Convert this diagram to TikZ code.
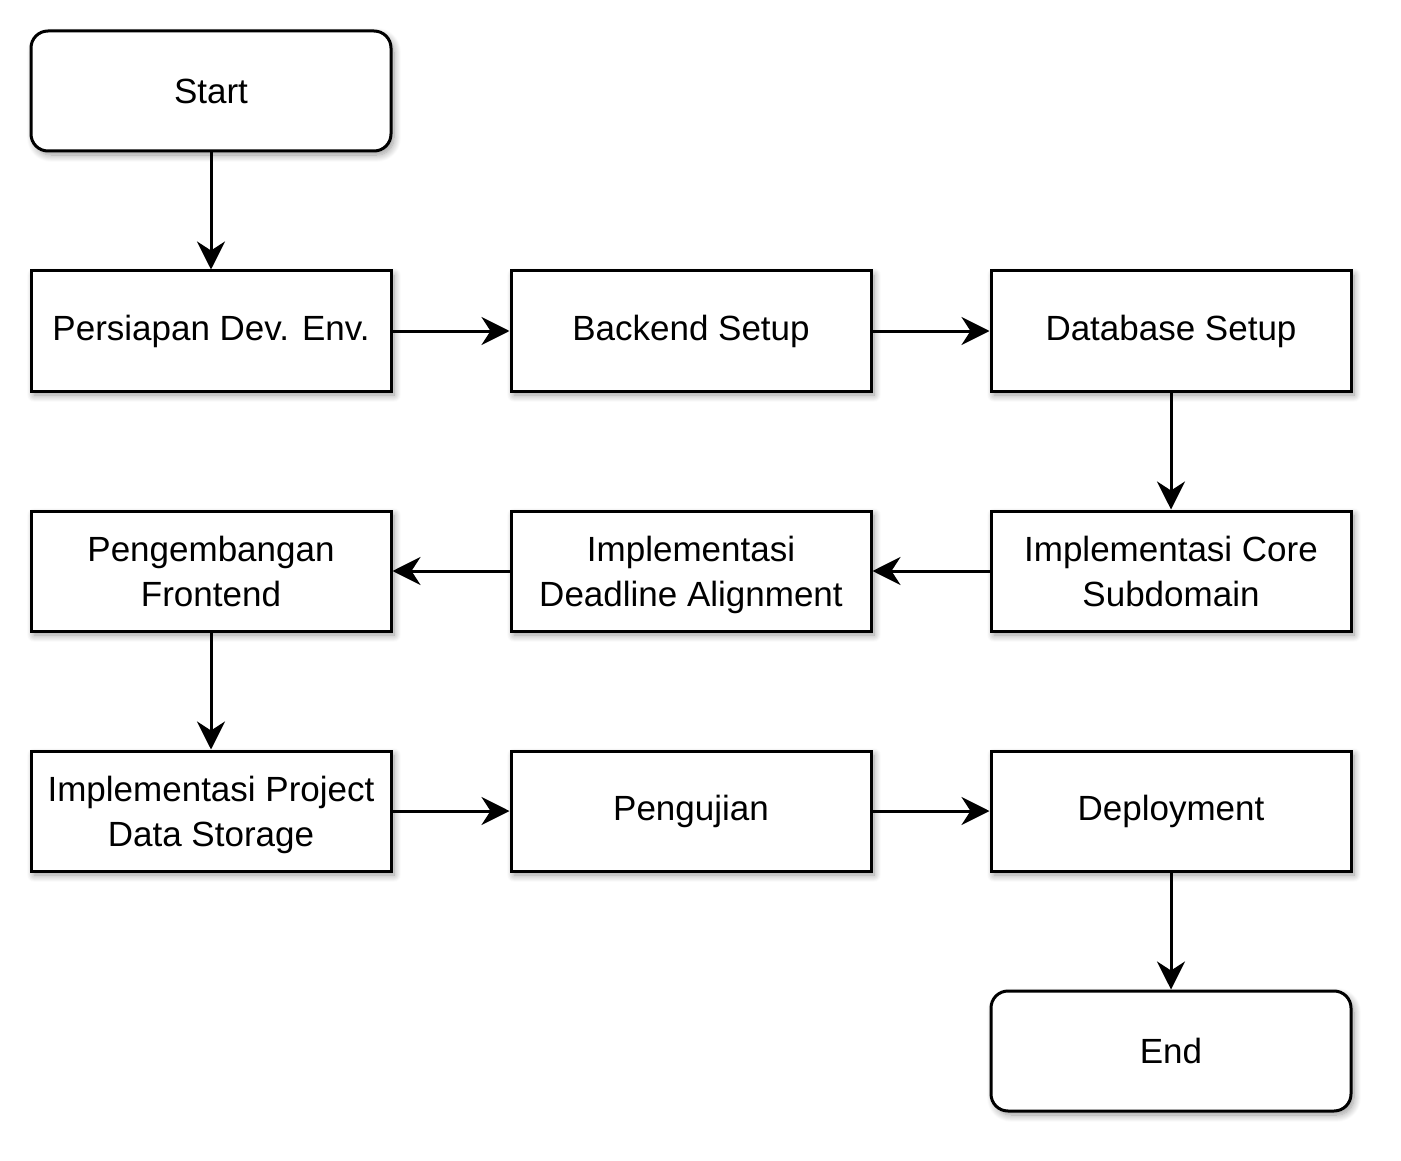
\documentclass[tikz,border=0pt]{standalone}
\usepackage{fontspec}
\setmainfont{Liberation Sans}
\usetikzlibrary{arrows.meta,shadows.blur}
\begin{document}
\begin{tikzpicture}[x=1pt,y=-1pt,
  box/.style={draw=black,line width=3pt,fill=white,minimum width=360pt,minimum height=120pt,
    inner sep=0pt,align=center,font=\fontsize{35}{45}\selectfont,
    blur shadow={shadow xshift=3pt,shadow yshift=-4pt,shadow blur radius=7pt,shadow opacity=40,shadow blur steps=10}},
  term/.style={box,rounded corners=17pt},
  conn/.style={line width=3pt,-{Stealth[length=28pt,width=28pt,inset=9pt]}}
]
\useasboundingbox (0,0) rectangle (1401,1161);
\node[term] (start) at (211,91) {Start};
\node[box] (persiapan) at (211,331) {Persiapan Dev. Env.};
\node[box] (backend) at (691,331) {Backend Setup};
\node[box] (database) at (1171,331) {Database Setup};
\node[box] (core) at (1171,571) {Implementasi Core\\Subdomain};
\node[box] (deadline) at (691,571) {Implementasi\\Deadline Ali\smash{g}nment};
\node[box] (frontend) at (211,571) {Pengembangan\\Frontend};
\node[box] (storage) at (211,811) {Implementasi Project\\Data Stora\smash{g}e};
\node[box] (pengujian) at (691,811) {Pengujian};
\node[box] (deploy) at (1171,811) {Deployment};
\node[term] (end) at (1171,1051) {End};
\draw[conn] (start) -- (persiapan);
\draw[conn] (persiapan) -- (backend);
\draw[conn] (backend) -- (database);
\draw[conn] (database) -- (core);
\draw[conn] (core) -- (deadline);
\draw[conn] (deadline) -- (frontend);
\draw[conn] (frontend) -- (storage);
\draw[conn] (storage) -- (pengujian);
\draw[conn] (pengujian) -- (deploy);
\draw[conn] (deploy) -- (end);
\end{tikzpicture}
\end{document}
